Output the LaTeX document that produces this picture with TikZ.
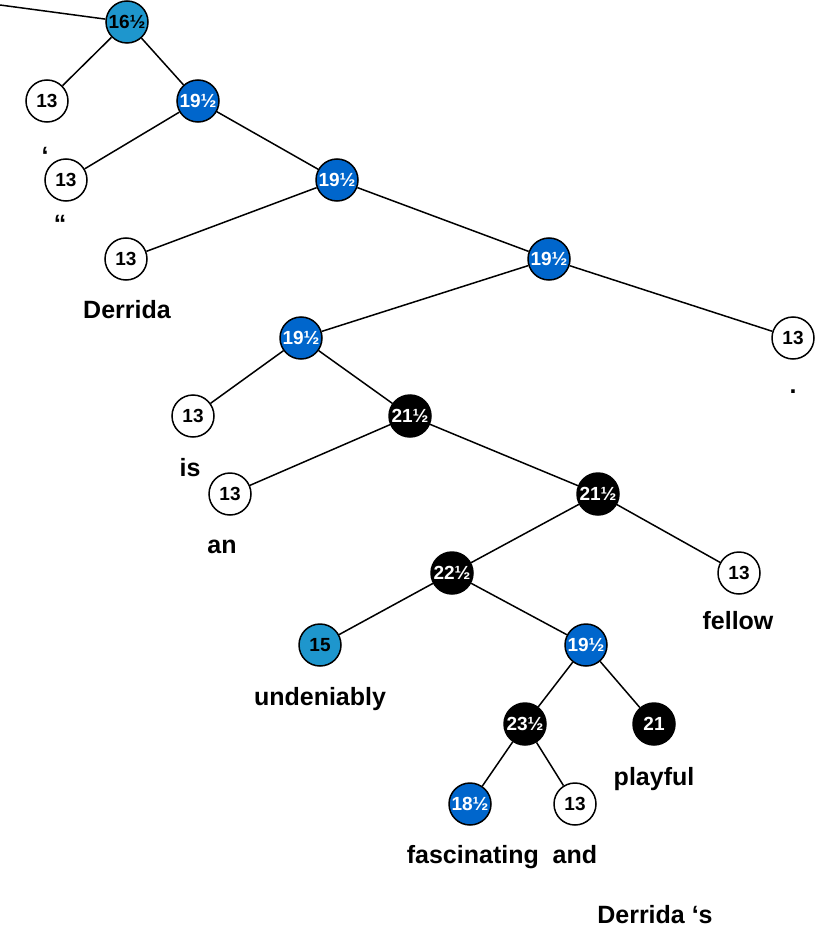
\documentclass[tikz,border=0pt]{standalone}
\usepackage{fontspec}
\setmainfont{Liberation Sans}
\begin{document}
\begin{tikzpicture}[x=1pt,y=-1pt,
        % styles
        leaf/.style = {
                circle, draw=black, line width=1.5pt, minimum size=42pt, inner sep=0pt,
                fill=white, font=\bfseries\fontsize{19}{21}\selectfont
            },
        sky/.style = {leaf, fill={rgb,255:red,30;green,150;blue,205}},
        blue/.style = {leaf, fill=blue!50!cyan!80!black, text=white},
        dark/.style = {leaf, fill=black, text=white},
        word/.style = {font=\bfseries\fontsize{25}{28}\selectfont},
        edge/.style = {line width=1.5pt}]
    \useasboundingbox (0,0) rectangle (825,936);

    \node (root) [sky] at (127,22) {16½};
    \node (leafA) [leaf] at (47,101) {13};
    \node (blueA) [blue] at (198,101) {19½};
    \node (leafB) [leaf] at (66,180) {13};
    \node (blueB) [blue] at (337,180) {19½};
    \node (leafC) [leaf] at (126,259) {13};
    \node (blueC) [blue] at (549,259) {19½};
    \node (blueD) [blue] at (301,338) {19½};
    \node (leafD) [leaf] at (793,338) {13};
    \node (leafE) [leaf] at (193,416) {13};
    \node (darkA) [dark] at (410,416) {21½};
    \node (leafF) [leaf] at (230,494) {13};
    \node (darkB) [dark] at (598,494) {21½};
    \node (darkC) [dark] at (452,573) {22½};
    \node (leafG) [leaf] at (739,573) {13};
    \node (skyA) [sky] at (320,645) {15};
    \node (blueE) [blue] at (586,645) {19½};
    \node (darkD) [dark] at (525,724) {23½};
    \node (darkE) [dark] at (654,724) {21};
    \node (blueF) [blue] at (470,804) {18½};
    \node (leafH) [leaf] at (575,804) {13};
    \coordinate (enter) at (0,5);

    % words
    \node (wQuote) [word] at (45,156) {‘};
    \node (wDquote) [word] at (60,224) {“};
    \node (wDerrida) [word] at (127,310) {Derrida};
    \node (wDot) [word] at (793,392) {.};
    \node (wIs) [word] at (190,468) {is};
    \node (wAn) [word] at (222,547) {an};
    \node (wFellow) [word] at (738,621) {fellow};
    \node (wUndeniably) [word] at (320,699) {undeniably};
    \node (wPlayful) [word] at (654,779) {playful};
    \node (wFascinating) [word] at (502,857) {fascinating\ \ and};
    \node (wDerridas) [word] at (655,915) {Derrida ‘s};

    % edges
    \draw [edge] (enter) -- (root);
    \draw [edge] (root) -- (leafA);
    \draw [edge] (root) -- (blueA);
    \draw [edge] (blueA) -- (leafB);
    \draw [edge] (blueA) -- (blueB);
    \draw [edge] (blueB) -- (leafC);
    \draw [edge] (blueB) -- (blueC);
    \draw [edge] (blueC) -- (blueD);
    \draw [edge] (blueC) -- (leafD);
    \draw [edge] (blueD) -- (leafE);
    \draw [edge] (blueD) -- (darkA);
    \draw [edge] (darkA) -- (leafF);
    \draw [edge] (darkA) -- (darkB);
    \draw [edge] (darkB) -- (darkC);
    \draw [edge] (darkB) -- (leafG);
    \draw [edge] (darkC) -- (skyA);
    \draw [edge] (darkC) -- (blueE);
    \draw [edge] (blueE) -- (darkD);
    \draw [edge] (blueE) -- (darkE);
    \draw [edge] (darkD) -- (blueF);
    \draw [edge] (darkD) -- (leafH);
\end{tikzpicture}
\end{document}
